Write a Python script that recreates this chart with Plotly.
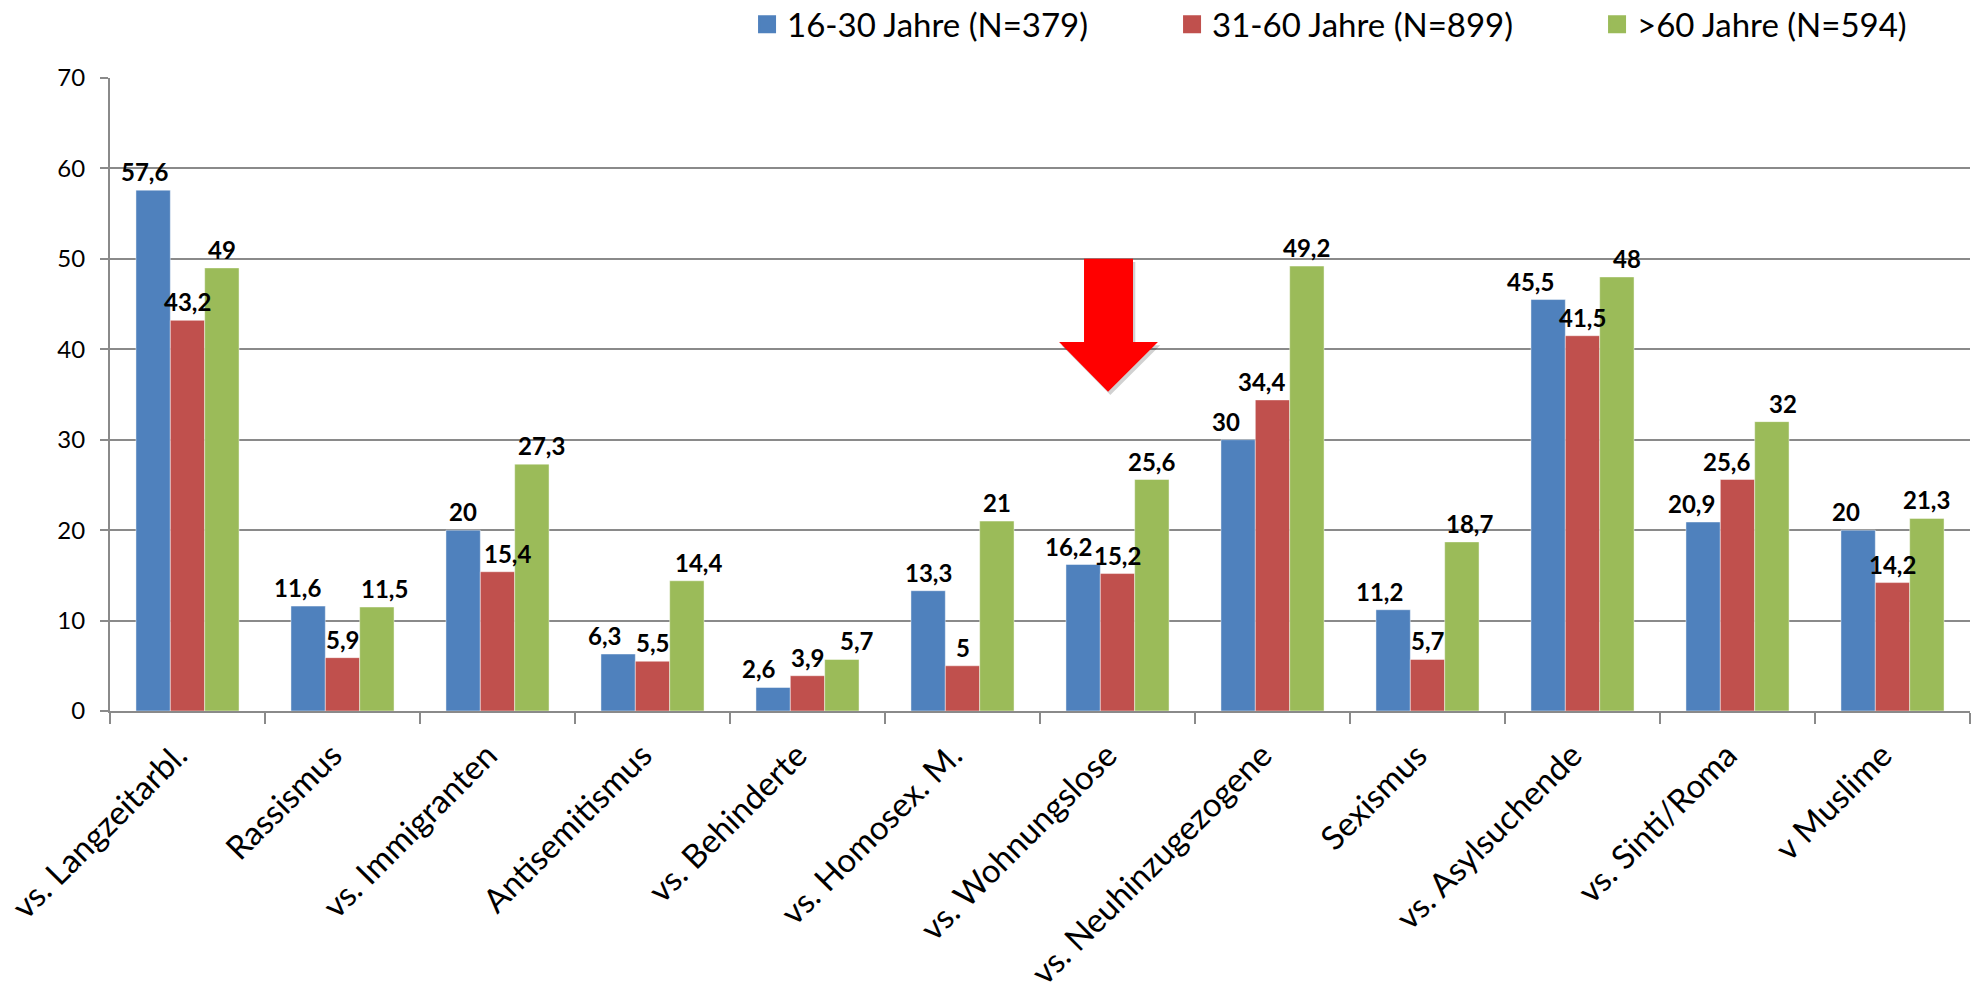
import plotly.graph_objects as go

# Survey results by age group (percent)
categories = [
    "vs. Langzeitarbl.", "Rassismus", "vs. Immigranten", "Antisemitismus",
    "vs. Behinderte", "vs. Homosex. M.", "vs. Wohnungslose", "vs. Neuhinzugezogene",
    "Sexismus", "vs. Asylsuchende", "vs. Sinti/Roma", "v Muslime",
]
series_names = ["16-30 Jahre (N=379)", "31-60 Jahre (N=899)", ">60 Jahre (N=594)"]
age_16_30 = [57.6, 11.6, 20, 6.3, 2.6, 13.3, 16.2, 30, 11.2, 45.5, 20.9, 20]
age_31_60 = [43.2, 5.9, 15.4, 5.5, 3.9, 5, 15.2, 34.4, 5.7, 41.5, 25.6, 14.2]
age_60_plus = [49, 11.5, 27.3, 14.4, 5.7, 21, 25.6, 49.2, 18.7, 48, 32, 21.3]
y_ticks = [0, 10, 20, 30, 40, 50, 60, 70]

# Horizontal nudges (px) for value labels that would otherwise collide
label_nudge = [
    [-9, -11, 0, -14, -14, 0, -15, -12, -14, -18, -12, -12],
    [0, 0, 10, 0, 0, 0, 0, -11, 0, 0, -11, 0],
    [0, 8, 10, 12, 15, 0, 0, 0, 8, 10, 11, 0],
]

colors = ["#4F81BD", "#C0504D", "#9BBB59"]
FONT = "Lato"
GRID = "#8a8a8a"

L_MARGIN, R_MARGIN, T_MARGIN, B_MARGIN = 110, 9, 78, 289
W, H = 1979, 1000
BARGAP = 0.335
cat_px = (W - L_MARGIN - R_MARGIN) / len(categories)
bar_px = cat_px * (1 - BARGAP) / 3


def de_label(v):
    return f"{v:g}".replace(".", ",")


fig = go.Figure()
annotations = []
series = [age_16_30, age_31_60, age_60_plus]
for k, (name, vals, col) in enumerate(zip(series_names, series, colors)):
    fig.add_trace(go.Bar(
        x=categories, y=vals, name=name,
        marker=dict(color=col, line=dict(color="rgba(255,255,255,0.45)", width=1)),
        showlegend=False, hoverinfo="x+y",
    ))
    # legend proxy with a larger square swatch
    fig.add_trace(go.Scatter(
        x=[None], y=[None], mode="markers", name=name,
        marker=dict(symbol="square", size=18, color=col, line=dict(color=col, width=2)),
        showlegend=True,
    ))
    for i, (c, v) in enumerate(zip(categories, vals)):
        annotations.append(dict(
            x=c, y=v, xref="x", yref="y", text=de_label(v), showarrow=False,
            xanchor="center", yanchor="bottom",
            xshift=(k - 1) * bar_px + label_nudge[k][i], yshift=2,
            font=dict(family=FONT, size=24, color="black", weight="bold"),
        ))

# Red highlight arrow above "vs. Wohnungslose" (x in category-index units)
ai = categories.index("vs. Wohnungslose")
arrow_pts = [
    (ai - 0.216, 50), (ai + 0.100, 50), (ai + 0.100, 40.8), (ai + 0.261, 40.8),
    (ai - 0.061, 35.3), (ai - 0.377, 40.8), (ai - 0.216, 40.8),
]


def path_of(pts, dx=0.0, dy=0.0):
    return "M" + " L".join(f"{x + dx},{y + dy}" for x, y in pts) + " Z"


shapes = [
    dict(type="path", xref="x", yref="y", path=path_of(arrow_pts, 0.015, -0.35),
         fillcolor="rgba(0,0,0,0.18)", line=dict(width=0), layer="above"),
    dict(type="path", xref="x", yref="y", path=path_of(arrow_pts),
         fillcolor="#FF0000", line=dict(width=0), layer="above"),
]

fig.update_layout(
    width=W, height=H,
    margin=dict(l=L_MARGIN, r=R_MARGIN, t=T_MARGIN, b=B_MARGIN, autoexpand=False),
    paper_bgcolor="white", plot_bgcolor="white",
    barmode="group", bargap=BARGAP, bargroupgap=0,
    font=dict(family=FONT, color="black"),
    shapes=shapes,
    annotations=annotations,
    legend=dict(
        orientation="h", x=0.3425, xanchor="left", y=1.085, yanchor="middle",
        font=dict(family=FONT, size=33, color="black"),
        entrywidth=380, entrywidthmode="pixels",
        bgcolor="rgba(0,0,0,0)",
    ),
    xaxis=dict(
        type="category", tickangle=-45,
        tickfont=dict(family=FONT, size=33, color="black"),
        showline=True, linecolor=GRID, linewidth=2,
        ticks="outside", ticklen=11, tickcolor=GRID, tickwidth=2,
        tickson="boundaries", showgrid=False,
        ticklabelstandoff=10, ticklabelshift=-10,
    ),
    yaxis=dict(
        range=[0, 70], tickvals=y_ticks,
        tickfont=dict(family=FONT, size=24, color="black"),
        showline=True, linecolor=GRID, linewidth=2,
        ticks="outside", ticklen=8, tickcolor=GRID, tickwidth=2,
        ticklabelstandoff=10,
        showgrid=True, gridcolor=GRID, gridwidth=2,
        zeroline=False,
    ),
)

fig.write_html("out.html")
